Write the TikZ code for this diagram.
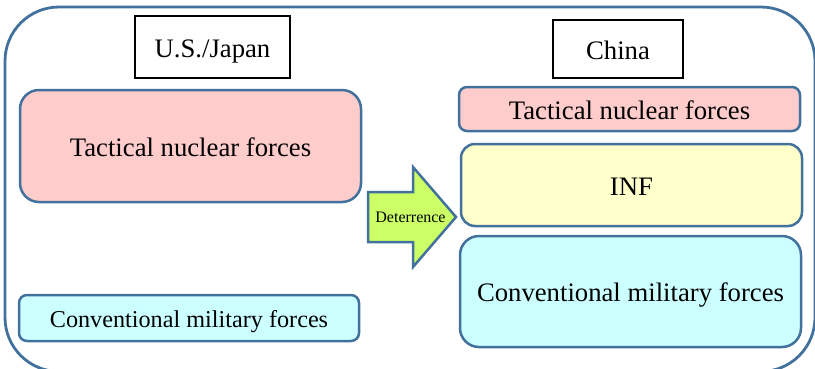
\documentclass[tikz,border=0pt]{standalone}
\usepackage{fontspec}
\setmainfont{Liberation Serif}
\begin{document}
\definecolor{edgeblue}{RGB}{65,113,156}
\definecolor{pinkfill}{RGB}{255,204,204}
\definecolor{yellowfill}{RGB}{255,255,204}
\definecolor{cyanfill}{RGB}{204,255,255}
\definecolor{greenfill}{RGB}{204,255,102}
\begin{tikzpicture}[x=1pt,y=-1pt,
  force/.style={draw=edgeblue, line width=2.5pt, inner sep=0pt,
    text height=20pt, text depth=0pt,
    font=\fontsize{26.7}{30}\selectfont},
  title/.style={draw=black, line width=1.6pt, fill=white, inner sep=0pt,
    text height=20.5pt, text depth=0pt,
    font=\fontsize{26.7}{30}\selectfont},
  blockarrow/.style={draw=edgeblue, line width=2.5pt, fill=greenfill, line join=miter}]
\useasboundingbox (0,0) rectangle (815,368);
\clip (0,0) rectangle (815,368);

% outer frame
\draw[edgeblue, line width=2.8pt, rounded corners=54pt] (5,7) rectangle (815,371.5);

% column headings
\node[title, minimum width=155pt, minimum height=62pt] (usj) at (212.5,47) {U.S./Japan};
\node[title, minimum width=130pt, minimum height=58pt] (china) at (618,49) {China};

% U.S./Japan side
\node[force, fill=pinkfill, rounded corners=19pt, minimum width=341pt, minimum height=112pt]
  (lnuc) at (190.5,146) {Tactical nuclear forces};
\node[force, fill=cyanfill, rounded corners=8pt, minimum width=340pt, minimum height=46pt,
  text height=19pt, font=\fontsize{24.2}{28}\selectfont]
  (lconv) at (189,318) {Conventional military forces};

% China side
\node[force, fill=pinkfill, rounded corners=8pt, minimum width=341pt, minimum height=44pt]
  (rnuc) at (629.5,109) {Tactical nuclear forces};
\node[force, fill=yellowfill, rounded corners=14pt, minimum width=341pt, minimum height=82pt]
  (inf) at (631.5,185) {INF};
\node[force, fill=cyanfill, rounded corners=19pt, minimum width=341pt, minimum height=111pt]
  (rconv) at (630.5,291.5) {Conventional military forces};

% deterrence block arrow
\coordinate (tail) at (368,217);
\coordinate (tip) at (456,217);
\draw[blockarrow] (tail) ++(0,-25) -- ++(45,0) -- ++(0,-25) -- (tip)
  -- ++(-43,50) -- ++(0,-25) -- ++(-45,0) -- cycle;
\node[inner sep=0pt, font=\fontsize{16}{18}\selectfont] (deter) at (410.5,217) {Deterrence};
\end{tikzpicture}
\end{document}
